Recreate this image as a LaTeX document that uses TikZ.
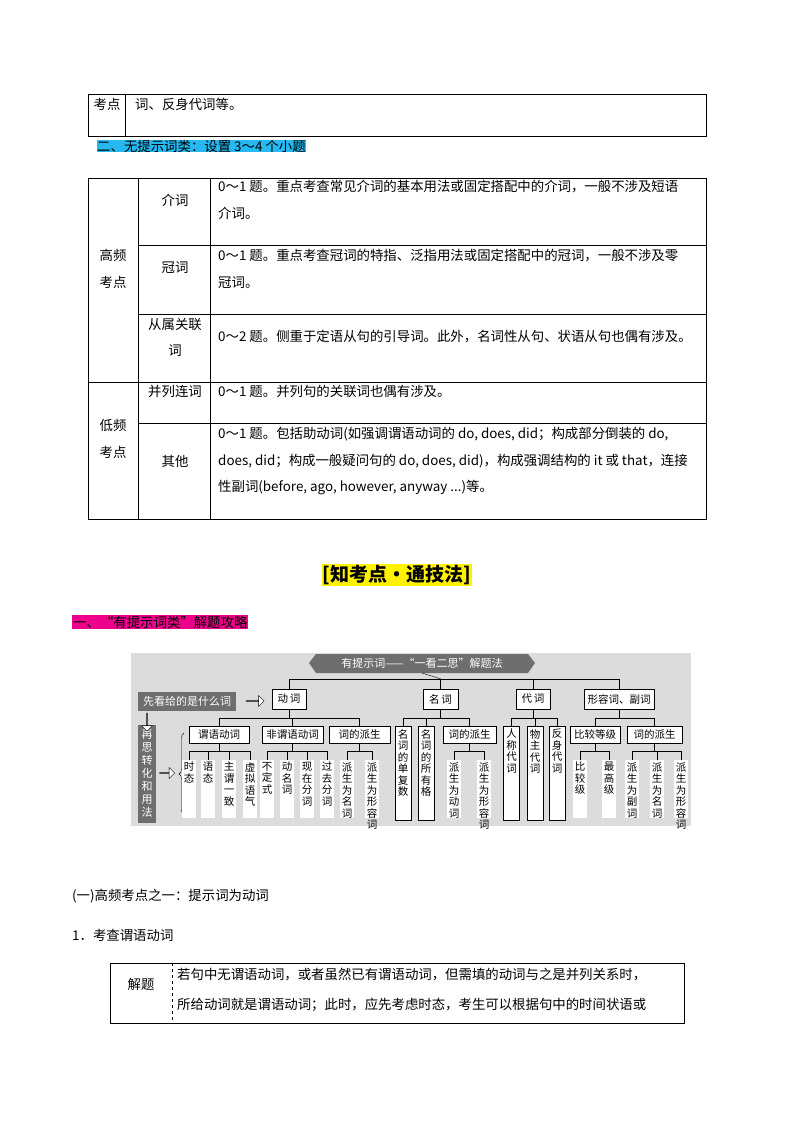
\documentclass[tikz,border=0pt]{standalone}
\usepackage{fontspec}
\setmainfont{Noto Sans CJK SC}
\newfontfamily\cjk{Noto Sans CJK SC}
\usetikzlibrary{shapes.arrows,decorations.pathreplacing}
\definecolor{bggray}{HTML}{DCDCDC}
\definecolor{darkg}{HTML}{6E6E6E}
\begin{document}
\begin{tikzpicture}[x=1pt,y=-1pt,
  txt/.style={anchor=west,inner sep=0,font=\fontsize{13.4}{15}\selectfont},
  ctxt/.style={inner sep=0,font=\fontsize{13.4}{15}\selectfont},
  hbox/.style={draw,fill=white,inner sep=0,font=\fontsize{10.5}{12}\selectfont},
  dbox/.style={fill=darkg,text=white,inner sep=0,font=\fontsize{11}{13}\selectfont},
  vtxt/.style={anchor=north,inner sep=0,align=center,font=\fontsize{10.5}{11.5}\selectfont},
  tline/.style={line width=0.6pt},
  hol/.style={single arrow,draw,fill=white,inner sep=0,single arrow head extend=3pt,minimum height=18pt,minimum width=11pt}]
\useasboundingbox (0,0) rectangle (794,1123);
\fill[white] (0,0) rectangle (794,1123);
% top table
\draw[tline] (88,94) rectangle (706,136);
\draw[tline] (125,94) -- (125,136);
\node[ctxt] (k1) at (107,104) {考点};
\node[txt] (k2) at (135,104) {词、反身代词等。};
\node[txt,fill=cyan!85] (h2) at (97,146) {二、无提示词类：设置 3～4 个小题};
% main table
\draw[tline] (88,178) rectangle (706,519);
\draw[tline] (138,178) -- (138,519);
\draw[tline] (210,178) -- (210,519);
\draw[tline] (138,245) -- (706,245);
\draw[tline] (138,314) -- (706,314);
\draw[tline] (88,382) -- (706,382);
\draw[tline] (138,423) -- (706,423);
\node[ctxt] (gp1) at (113,255) {高频};
\node[ctxt] (gp2) at (113,282) {考点};
\node[ctxt] (dp1) at (113,425) {低频};
\node[ctxt] (dp2) at (113,452) {考点};
\node[ctxt] (c1) at (175,200) {介词};
\node[ctxt] (c2) at (175,268) {冠词};
\node[ctxt] (c3a) at (175,324) {从属关联};
\node[ctxt] (c3b) at (175,351) {词};
\node[ctxt] (c4) at (175,391) {并列连词};
\node[ctxt] (c5) at (175,461) {其他};
\node[txt] (t1a) at (218,187) {0～1 题。重点考查常见介词的基本用法或固定搭配中的介词，一般不涉及短语};
\node[txt] (t1b) at (218,213) {介词。};
\node[txt] (t2a) at (218,256) {0～1 题。重点考查冠词的特指、泛指用法或固定搭配中的冠词，一般不涉及零};
\node[txt] (t2b) at (218,283) {冠词。};
\node[txt] (t3) at (218,337) {0～2 题。侧重于定语从句的引导词。此外，名词性从句、状语从句也偶有涉及。};
\node[txt] (t4) at (218,391) {0～1 题。并列句的关联词也偶有涉及。};
\node[txt] (t5a) at (218,434) {0～1 题。包括助动词(如强调谓语动词的 do, does, did；构成部分倒装的 do,};
\node[txt] (t5b) at (218,461) {does, did；构成一般疑问句的 do, does, did)，构成强调结构的 it 或 that，连接};
\node[txt] (t5c) at (218,488) {性副词(before, ago, however, anyway ...)等。};
% title
\node[fill=yellow,inner sep=1pt,font=\fontsize{19}{22}\selectfont\bfseries] (ttl) at (397,575) {[知考点·通技法]};
\node[txt,fill=magenta,inner sep=1pt] (h1) at (72,622) {一、“有提示词类”解题攻略};
% diagram
\fill[bggray] (131,653) rectangle (691,826);
\fill[darkg] (309,663) -- (316,654) -- (528,654) -- (535,663) -- (528,673) -- (316,673) -- cycle;
\node[text=white,inner sep=0,font=\fontsize{11}{12}\selectfont] (ban) at (422,663.5) {有提示词——“一看二思”解题法};
\coordinate (hub) at (441,679);
\node[hbox,minimum width=34pt,minimum height=20pt] (dc) at (289,699) {动\,词};
\node[hbox,minimum width=35pt,minimum height=20pt] (mc) at (440.5,699) {名\,词};
\node[hbox,minimum width=34pt,minimum height=20pt] (dai) at (533,699) {代\,词};
\node[hbox,minimum width=70pt,minimum height=20pt] (xr) at (619,699) {形容词、副词};
\draw (ban.south |- 0,673) -- (hub);
\draw (hub) -| (dc.north);
\draw (hub) -| (mc.north);
\draw (hub) -| (dai.north);
\draw (hub) -| (xr.north);
\node[dbox,minimum width=98pt,minimum height=19pt] (xk) at (187,701.5) {先看给的是什么词};
\node[dbox,minimum width=18pt,minimum height=98pt,align=center,font=\fontsize{11}{13}\selectfont] (zs) at (147,774) {再\\思\\转\\化\\和\\用\\法};
\node[hol] (a1) at (255,701) {};
\node[hol,rotate=-90] (a2) at (147,722) {};
\node[hol,minimum height=15pt] (a3) at (167,773) {};
\draw[decoration={brace,amplitude=5pt},decorate] (184,815) -- (184,733);
% level 2
\node[hbox,minimum width=60pt,minimum height=17pt] (wy) at (219,734.5) {谓语动词};
\node[hbox,minimum width=61pt,minimum height=17pt] (fwy) at (292.5,734.5) {非谓语动词};
\node[hbox,minimum width=61pt,minimum height=17pt] (ps1) at (359.5,734.5) {词的派生};
\foreach \n in {wy,fwy,ps1} \draw (dc.south) -- ++(0,9) -| (\n.north);
\node[hbox,minimum width=53pt,minimum height=17pt] (ps2) at (469.5,734.5) {词的派生};
\node[hbox,minimum width=50pt,minimum height=17pt] (bj) at (595,734.5) {比较等级};
\node[hbox,minimum width=55pt,minimum height=17pt] (ps3) at (654.5,734.5) {词的派生};
% tall bordered boxes
\foreach \nm/\x/\t in {mf/403/名\\词\\的\\单\\复\\数, ms/426/名\\词\\的\\所\\有\\格, rc/511.5/人\\称\\代\\词, wz/535/物\\主\\代\\词, fs/557/反\\身\\代\\词}{
  \node[draw,fill=white,minimum width=16pt,minimum height=94pt,anchor=north,inner sep=0] (\nm) at (\x,726) {};
  \node[vtxt] (\nm t) at (\x,729) {\t};
}
\foreach \n in {mf,ms,ps2} \draw (mc.south) -- ++(0,9) -| (\n.north);
\foreach \n in {rc,wz,fs} \draw (dai.south) -- ++(0,9) -| (\n.north);
\foreach \n in {bj,ps3} \draw (xr.south) -- ++(0,9) -| (\n.north);
% leaves
\foreach \nm/\x/\p/\t in {
 l1/189/wy/时\\态, l2/208/wy/语\\态, l3/229/wy/主\\谓\\一\\致, l4/250/wy/虚\\拟\\语\\气,
 l5/267/fwy/不\\定\\式, l6/287/fwy/动\\名\\词, l7/307/fwy/现\\在\\分\\词, l8/327/fwy/过\\去\\分\\词,
 l9/347/ps1/派\\生\\为\\名\\词, l10/372/ps1/派\\生\\为\\形\\容\\词,
 l11/454/ps2/派\\生\\为\\动\\词, l12/484/ps2/派\\生\\为\\形\\容\\词,
 l13/580/bj/比\\较\\级, l14/609/bj/最\\高\\级,
 l15/632/ps3/派\\生\\为\\副\\词, l16/657/ps3/派\\生\\为\\名\\词, l17/681/ps3/派\\生\\为\\形\\容\\词}{
  \node[fill=white,minimum width=14pt,minimum height=58pt,anchor=north,inner sep=0] (\nm) at (\x,760) {};
  \node[vtxt] (\nm t) at (\x,762) {\t};
  \draw (\p.south) -- ++(0,7.5) -| (\nm.north);
}
% bottom
\node[txt] (b1) at (72,896) {(一)高频考点之一：提示词为动词};
\node[txt] (b2) at (72,935) {1．考查谓语动词};
\draw[tline] (110,963) rectangle (684,1023);
\draw[dashed] (172,963) -- (172,1023);
\node[ctxt] (jt) at (141,984) {解题};
\node[txt] (j1) at (177,975) {若句中无谓语动词，或者虽然已有谓语动词，但需填的动词与之是并列关系时，};
\node[txt] (j2) at (177,1005) {所给动词就是谓语动词；此时，应先考虑时态，考生可以根据句中的时间状语或};
\end{tikzpicture}
\end{document}
